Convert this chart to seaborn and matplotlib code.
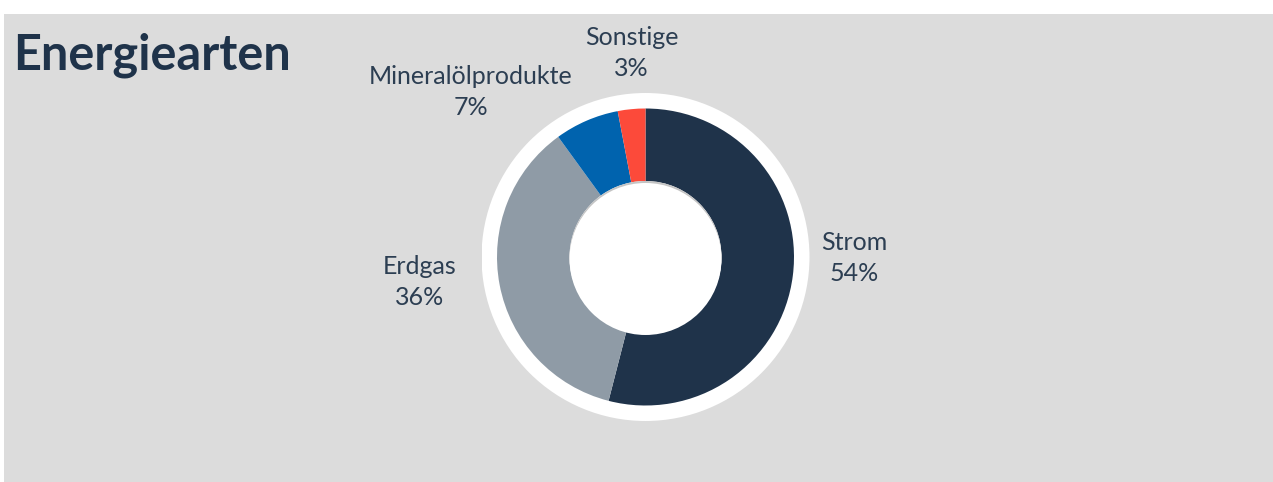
import matplotlib
matplotlib.use("Agg")
import matplotlib.pyplot as plt
import seaborn as sns
from matplotlib.patches import Circle, Rectangle

# data
categories = ["Strom", "Erdgas", "Mineralölprodukte", "Sonstige"]
shares = [54, 36, 7, 3]
colors = ["#1f334a", "#8f9ba6", "#0063ae", "#fc4a3a"]

# label anchor points (pixel offsets from the donut centre)
label_offsets = [(209, -1), (-226, -25), (-175, 165), (-14, 204)]

sns.set_style("white")
plt.rcParams["font.family"] = ["Lato", "DejaVu Sans"]

W, H = 1273, 482
fig = plt.figure(figsize=(W / 100, H / 100), dpi=100)
fig.patch.set_facecolor("white")

# grey panel
fig.patches.append(Rectangle((4 / W, 0), 1 - 4 / W, (H - 14) / H,
                             transform=fig.transFigure, facecolor="#dcdcdc",
                             edgecolor="none", zorder=-5))

# donut axes, 1 data unit = 164 px
cx, cy = 645.5, 257
R = 164
ax = fig.add_axes([(cx - R) / W, (H - cy - R) / H, 2 * R / W, 2 * R / H])
ax.set_zorder(2)
ax.axis("off")
ax.patch.set_alpha(0)

ax.add_patch(Circle((0, 0), 1.0, facecolor="white", edgecolor="none", zorder=0))
outer = 148.5 / R
inner = 76 / R
ax.pie(shares, colors=colors, startangle=90, counterclock=False,
       radius=outer, wedgeprops=dict(width=outer - inner, edgecolor="none"))
# inner hole with faint shadow along the top
ax.add_patch(Circle((0, 0), inner, facecolor="#c4c4c4", edgecolor="none", zorder=5))
ax.add_patch(Circle((0, -2 / R), inner, facecolor="white", edgecolor="none", zorder=6))
ax.set_xlim(-1, 1)
ax.set_ylim(-1, 1)
ax.set_aspect("equal")

total = sum(shares)
for name, val, (dx, dy) in zip(categories, shares, label_offsets):
    ax.text(dx / R, dy / R, f"{name}\n{round(val / total * 100)}%",
            ha="center", va="center", fontsize=18, color="#2c3e52",
            linespacing=1.45, clip_on=False, zorder=10)

fig.text(13 / W, 1 - 70 / H, "Energiearten", fontsize=35, fontweight="bold",
         color="#1f334a", ha="left", va="baseline")

fig.savefig("out.png", dpi=100, facecolor=fig.get_facecolor())
